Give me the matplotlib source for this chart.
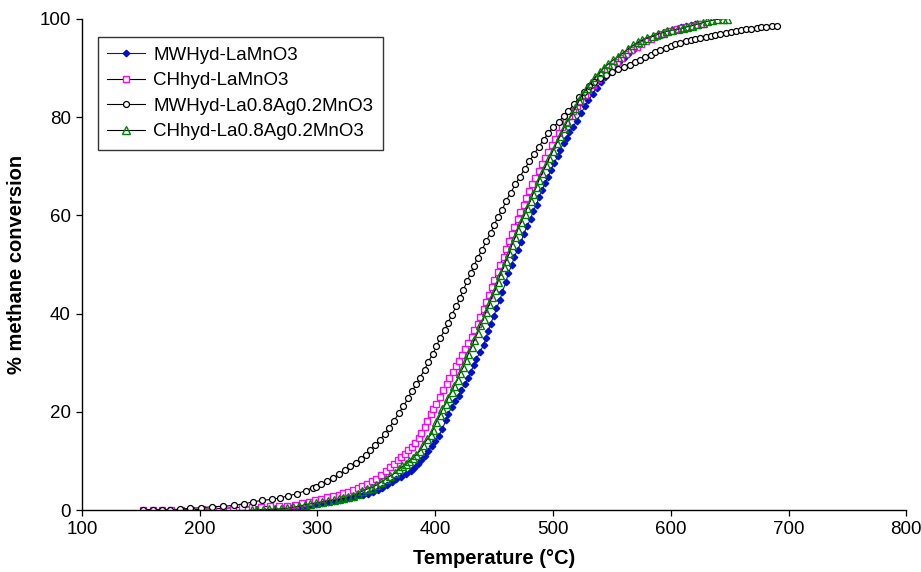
from __future__ import annotations

import matplotlib

matplotlib.use("Agg")
import matplotlib.pyplot as plt

OUTPUT_PATH = "out.png"

# MWHyd-LaMnO3 (blue diamonds)
mw_lamno3_t = [
    244, 249, 254, 259, 264, 269, 274, 279, 284, 289, 294, 299, 304, 309, 314, 319, 323, 327, 331, 335,
    339, 343, 347, 351, 355, 359, 363, 367, 371, 375, 379, 382, 385, 388, 391, 394, 397, 400, 403, 406,
    409, 411, 414, 417, 420, 422, 425, 428, 430, 433, 435, 438, 441, 443, 445, 447, 450, 452, 455, 457,
    460, 462, 465, 467, 470, 473, 475, 478, 481, 483, 486, 488, 491, 493, 496, 498, 501, 504, 506, 509,
    512, 514, 517, 520, 524, 527, 530, 534, 537, 541, 544, 548, 552, 556, 560, 564, 568, 572, 576, 580,
    584, 589, 593, 597, 601, 605, 609, 613, 617, 621, 625,
]
mw_lamno3_y = [
    0.0, 0.0, 0.1, 0.1, 0.2, 0.2, 0.3, 0.4, 0.6, 0.8, 1.0, 1.2, 1.4, 1.6, 1.8, 2.0, 2.2, 2.5, 2.7, 3.0,
    3.2, 3.4, 3.7, 4.1, 4.6, 5.2, 5.8, 6.3, 6.8, 7.4, 8.0, 8.6, 9.4, 10.2, 11.1, 12.0, 13.1, 14.1, 15.1, 16.5,
    18.3, 19.6, 21.0, 22.2, 23.3, 24.5, 25.6, 26.9, 28.2, 29.5, 30.8, 32.2, 33.6, 35.0, 36.5, 38.0, 39.6, 41.1, 42.8, 44.5,
    46.4, 48.2, 49.9, 51.5, 53.0, 54.6, 56.2, 57.8, 59.3, 60.8, 62.2, 63.7, 65.1, 66.5, 67.9, 69.2, 70.6, 72.1, 73.4, 74.7,
    75.8, 76.9, 78.0, 79.2, 80.8, 82.2, 83.4, 84.8, 86.0, 87.1, 88.1, 89.2, 90.3, 91.3, 92.1, 92.9, 93.7, 94.4, 95.0, 95.6,
    96.1, 96.6, 97.0, 97.4, 97.7, 98.0, 98.3, 98.5, 98.7, 98.9, 99.0,
]

# CHhyd-LaMnO3 (magenta squares)
ch_lamno3_t = [
    152, 160, 168, 176, 184, 193, 202, 211, 220, 228, 236, 244, 252, 260, 267, 274, 281, 287, 293, 298,
    303, 308, 313, 318, 322, 326, 330, 334, 338, 342, 346, 350, 354, 358, 362, 365, 368, 371, 374, 377,
    380, 383, 386, 388, 391, 393, 396, 398, 401, 404, 407, 410, 412, 415, 418, 420, 423, 425, 428, 431,
    433, 436, 438, 441, 443, 446, 448, 450, 453, 455, 458, 460, 463, 465, 467, 470, 472, 475, 477, 480,
    482, 485, 488, 491, 493, 496, 499, 502, 505, 508, 511, 514, 517, 520, 523, 527, 530, 534, 538, 542,
    546, 550, 554, 558, 562, 566, 571, 575, 579, 583, 588, 592, 596, 600, 605, 609, 613, 618, 622, 626,
]
ch_lamno3_y = [
    0.0, 0.0, 0.0, 0.0, 0.1, 0.1, 0.2, 0.3, 0.4, 0.5, 0.6, 0.7, 0.7, 0.8, 0.8, 0.9, 1.1, 1.4, 1.7, 2.0,
    2.3, 2.6, 2.9, 3.2, 3.5, 3.8, 4.1, 4.5, 5.0, 5.4, 5.9, 6.4, 7.1, 7.9, 8.7, 9.5, 10.2, 10.9, 11.5, 12.2,
    12.9, 13.7, 14.6, 15.7, 17.0, 18.2, 19.5, 20.5, 21.7, 23.0, 24.4, 25.7, 26.9, 28.1, 29.3, 30.4, 31.6, 32.8, 34.0, 35.3,
    36.6, 38.0, 39.4, 40.9, 42.4, 43.9, 45.4, 46.9, 48.4, 50.0, 51.6, 53.2, 54.7, 56.2, 57.7, 59.2, 60.7, 62.2, 63.6, 65.0,
    66.4, 67.7, 69.0, 70.4, 71.7, 73.0, 74.3, 75.6, 76.8, 78.0, 79.1, 80.2, 81.3, 82.3, 83.3, 84.5, 85.6, 86.6, 87.7, 88.7,
    89.6, 90.5, 91.3, 92.1, 92.9, 93.6, 94.3, 94.9, 95.5, 96.0, 96.5, 96.9, 97.3, 97.6, 97.9, 98.2, 98.4, 98.6, 98.8, 98.9,
]

# MWHyd-La0.8Ag0.2MnO3 (black open circles)
mw_laag_t = [
    152, 160, 168, 175, 183, 192, 201, 210, 220, 229, 238, 245, 253, 261, 268, 275, 283, 290, 296, 299,
    303, 308, 313, 318, 323, 328, 333, 337, 341, 345, 349, 353, 357, 361, 365, 369, 373, 377, 380, 384,
    387, 391, 394, 398, 401, 404, 408, 411, 414, 418, 421, 424, 427, 430, 433, 436, 440, 443, 447, 450,
    453, 457, 460, 464, 468, 472, 476, 480, 484, 488, 492, 496, 500, 505, 509, 513, 518, 522, 526, 531,
    535, 540, 545, 550, 555, 560, 565, 570, 574, 578, 583, 587, 591, 596, 600, 604, 608, 613, 617, 621,
    625, 630, 634, 638, 642, 647, 651, 655, 660, 664, 668, 673, 677, 681, 686, 690,
]
mw_laag_y = [
    0.1, 0.1, 0.1, 0.1, 0.2, 0.4, 0.5, 0.7, 0.8, 1.0, 1.3, 1.7, 2.0, 2.2, 2.5, 2.9, 3.4, 4.0, 4.6, 4.8,
    5.3, 5.9, 6.5, 7.3, 8.1, 8.9, 9.7, 10.5, 11.3, 12.2, 13.2, 14.3, 15.5, 16.8, 18.2, 19.7, 21.2, 22.8, 24.2, 25.6,
    27.0, 28.6, 30.2, 31.8, 33.4, 35.0, 36.6, 38.2, 39.8, 41.5, 43.2, 44.9, 46.6, 48.2, 49.8, 51.4, 53.0, 54.7, 56.4, 58.0,
    59.6, 61.2, 62.9, 64.6, 66.3, 67.9, 69.5, 71.0, 72.5, 74.0, 75.4, 76.7, 77.9, 79.1, 80.2, 81.3, 82.6, 84.0, 85.2, 86.3,
    87.2, 88.0, 88.6, 89.2, 89.7, 90.2, 90.7, 91.2, 91.7, 92.2, 92.7, 93.2, 93.7, 94.1, 94.5, 94.8, 95.1, 95.4, 95.7, 96.0,
    96.2, 96.4, 96.6, 96.8, 97.0, 97.2, 97.4, 97.6, 97.8, 97.9, 98.0, 98.2, 98.3, 98.4, 98.5, 98.6,
]

# CHhyd-La0.8Ag0.2MnO3 (green open triangles)
ch_laag_t = [
    244, 249, 254, 259, 264, 269, 274, 279, 284, 289, 294, 299, 304, 309, 314, 318, 322, 326, 330, 334,
    338, 342, 346, 350, 354, 358, 362, 366, 369, 372, 375, 378, 381, 384, 387, 390, 393, 396, 398, 401,
    404, 406, 409, 411, 414, 416, 419, 421, 424, 426, 428, 431, 433, 436, 438, 441, 443, 446, 448, 451,
    453, 455, 458, 460, 463, 465, 468, 470, 473, 476, 478, 481, 483, 486, 488, 491, 494, 497, 500, 503,
    506, 509, 512, 516, 519, 522, 525, 529, 532, 536, 540, 543, 547, 551, 555, 559, 564, 568, 572, 576,
    580, 585, 589, 593, 597, 601, 606, 610, 614, 618, 622, 627, 631, 635, 639, 644, 648,
]
ch_laag_y = [
    0.0, 0.1, 0.1, 0.2, 0.2, 0.3, 0.4, 0.6, 0.8, 1.1, 1.3, 1.5, 1.7, 1.9, 2.0, 2.2, 2.4, 2.6, 2.9, 3.3,
    3.9, 4.3, 4.6, 5.1, 5.7, 6.4, 7.0, 7.6, 8.3, 8.9, 9.4, 10.0, 10.6, 11.3, 12.1, 13.3, 14.4, 15.3, 16.3, 18.0,
    19.3, 20.5, 21.7, 22.9, 24.1, 25.3, 26.6, 27.9, 29.2, 30.5, 31.8, 33.2, 34.6, 36.1, 37.6, 39.0, 40.4, 41.9, 43.4, 44.9,
    46.4, 47.9, 49.4, 50.8, 52.3, 54.0, 55.6, 57.1, 58.7, 60.2, 61.6, 63.0, 64.4, 65.8, 67.2, 68.7, 70.2, 71.7, 73.2, 74.7,
    76.2, 77.7, 79.1, 80.5, 81.9, 83.3, 84.6, 85.9, 87.0, 88.2, 89.1, 90.0, 90.8, 91.6, 92.3, 93.0, 93.9, 94.6, 95.2, 95.7,
    96.1, 96.5, 96.9, 97.2, 97.5, 97.7, 97.9, 98.1, 98.4, 98.6, 98.9, 99.2, 99.5, 99.7, 99.9, 100.0, 100.0,
]

x_ticks = [100, 200, 300, 400, 500, 600, 700, 800]
y_ticks = [0, 20, 40, 60, 80, 100]


def main() -> None:
    plt.rcParams["font.family"] = ["Liberation Sans", "DejaVu Sans"]
    fig = plt.figure(figsize=(9.21, 5.72), dpi=100)
    ax = fig.add_axes([0.089, 0.108, 0.895, 0.859])

    ax.plot(mw_lamno3_t, mw_lamno3_y, color="#0010c8", lw=0.8, marker="D", ms=3.3,
            mfc="#0010c8", mec="#0010c8", label="MWHyd-LaMnO3")
    ax.plot(ch_lamno3_t, ch_lamno3_y, color="black", lw=0.8, marker="s", ms=4.6,
            mfc="white", mec="#ff00ff", mew=1.0, label="CHhyd-LaMnO3")
    ax.plot(mw_laag_t, mw_laag_y, color="black", lw=0.8, marker="o", ms=4.3,
            mfc="white", mec="black", mew=0.9, label="MWHyd-La0.8Ag0.2MnO3")
    ax.plot(ch_laag_t, ch_laag_y, color="black", lw=0.8, marker="^", ms=5.6,
            mfc="none", mec="#008000", mew=1.0, label="CHhyd-La0.8Ag0.2MnO3")

    ax.set_xlim(100, 800)
    ax.set_ylim(0, 100)
    ax.set_xticks(x_ticks)
    ax.set_yticks(y_ticks)
    for side in ["top", "right"]:
        ax.spines[side].set_visible(False)
    for side in ["left", "bottom"]:
        ax.spines[side].set_linewidth(1.0)
    ax.tick_params(direction="out", length=4, width=0.9, labelsize=13.5, pad=4)

    ax.set_xlabel("Temperature (°C)", fontsize=14.5, fontweight="bold", labelpad=8)
    ax.set_ylabel("% methane conversion", fontsize=14.5, fontweight="bold", labelpad=10)

    leg = ax.legend(loc="upper left", bbox_to_anchor=(0.0194, 0.963), borderaxespad=0,
                    fontsize=13.5, frameon=True, fancybox=False, edgecolor="black",
                    borderpad=0.5, handlelength=2.0, handletextpad=0.45, labelspacing=0.45)
    leg.get_frame().set_linewidth(1.0)

    fig.savefig(OUTPUT_PATH, dpi=100)
    plt.close(fig)


if __name__ == "__main__":
    main()
